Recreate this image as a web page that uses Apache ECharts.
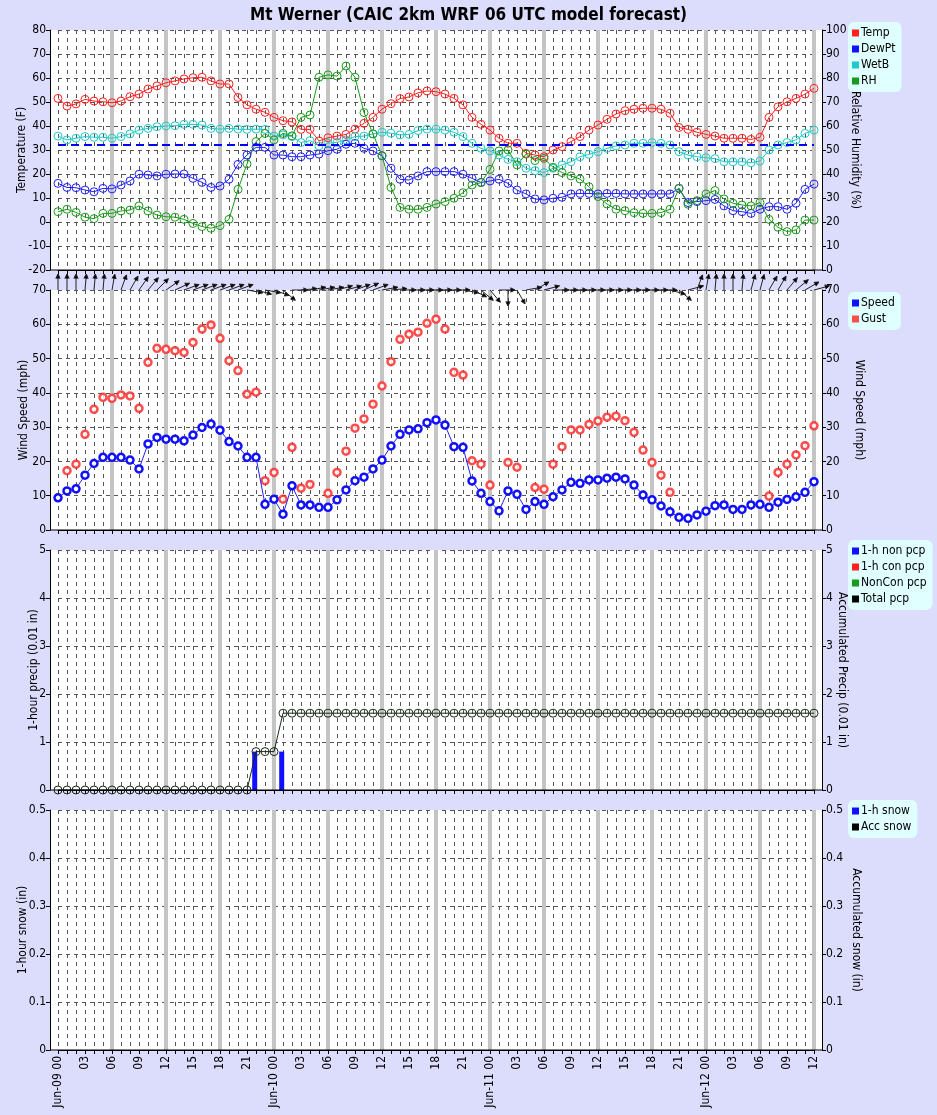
<!DOCTYPE html>
<html>
<head>
<meta charset="UTF-8">
<title>Mt Werner</title>
<script src="https://cdn.jsdelivr.net/npm/echarts@6/dist/echarts.min.js"></script>
<style>
  html, body { margin:0; padding:0; background:#dcdcfc; }
  #main { width:937px; height:1115px; }
</style>
</head>
<body>
<div id="main"></div>
<script>
// forecast hours Jun-09 00 .. Jun-12 12
var days = ['09', '10', '11', '12'];
var hours = [];
for (var i = 0; i <= 84; i++) {
    var hh = i % 24;
    hours.push(hh === 0 ? 'Jun-' + days[i / 24] + ' 00' : (hh < 10 ? '0' : '') + hh);
}

var temp = [51.5,48.3,49.2,51.1,50.4,50.1,49.7,50.4,52.2,53.3, 55.4,56.7,58,58.8,59.6,60.1,60.3,58.8,57.5,57.5,
    51.9,48.8,47,45.7,43.6,42.2,41.7,38.6,38.6,33.8, 35.1,35.8,36.5,38.7,41.1,43.6,47,49.3,51.4,52.1, 53.8,54.6,
    54.3,53.3,51.5,48.8,43.6,40.7,38.3,34.9,32.8,32.8, 28.6,27.9,27.2,30,31.4,33.5,35.6,38.3,40.4,42.8,
    45,46.4,47,47.4,47.4,47,45.3,39.4,38.6,37.4, 36.5,35.8,34.9,34.9,34.9,34.4,35.3,43.6,48,50.1, 51.5,53.3,55.7];
var dewpt = [16.1,14.4,14.3,13.3,12.6,14,13.8,15.4,17.1,19.9, 19.6,19.2,19.9,20,20,18.2,16.5,14.4,15,17.8,
    24,27.9,31.1,31.1,27.9,27.9,27.2,27.2,27.9,28.3, 29.7,30.3,32.4,32.8,30.7,29.6,27.6,22.4,17.8,17.5, 19.2,21,
    21,21,21,19.9,18.2,16.5,17.1,17.8,16.1,13.3, 11.7,9.6,9.2,9.9,10.3,11.7,11.9,11.9,11.7,11.9,
    11.9,11.7,11.7,11.7,11.7,11.7,11.7,14,8.1,8.5, 8.9,9.4,6.7,4.7,4.3,3.6,5.3,6.4,6.4,5.3, 7.8,13.6,15.8];
var wetb = [35.8,34.2,34.9,35.6,35.3,35.3,34.9,35.6,36.7,38.3, 39,39.7,40,40.1,40.7,40.7,40.4,39,38.7,39,
    38.7,38.6,38.7,38.6,35.8,36.3,35.6,33.1,33.9,31.7, 32.8,33.2,34.2,35.6,35.8,36.7,37.4,37,36.3,36.5, 38.1,38.7,
    38.7,38.3,37.4,35.6,32.8,30.7,29.6,27.9,26.1,25.1, 22.4,21.4,20.6,22.4,23.8,25.1,27.2,28.2,29.3,30.7,
    31.7,32.1,32.8,32.8,33.1,32.8,32.1,29.3,27.9,27.2, 26.8,26.4,25.1,25.1,25.1,24.7,25.4,30,32.1,33.1, 34.2,36.9,38.3];
var rh = [24.3,25.3,24,22,21.4,23.6,23.6,24.6,25,26.7, 24.6,22.9,22.2,22,21.1,19.4,18.1,17.4,18.5,21.1,
    33.6,44.2,53.5,56.9,54.2,56.9,55.9,63.6,64.6,80.3, 81.3,80.8,85,80.3,65.6,56.7,47.6,34.4,26.1,25.3, 25.3,26.1,
    27.5,28.5,29.9,32.2,35.4,36.4,41.9,49.6,50,43.8, 48.3,45.6,46.5,42.8,40.6,39.2,37.9,34.7,30.6,27.5,
    25.3,24.7,23.9,23.6,23.6,23.9,25.3,34,27.4,28.9, 31.7,33.1,29.6,27.8,27.1,26.7,28.1,21.1,17.8,16, 16.7,20.8,20.8];
var freezing = 32;

var speed = [9.4,11.4,12,16,19.4,21.2,21.2,21.2,20.4,17.8, 25.1,27,26.5,26.5,26,27.7,29.9,30.9,29.1,25.8,
    24.5,21.2,21.2,7.5,9,4.6,12.9,7.3,7.3,6.6, 6.6,8.8,11.7,14.4,15.4,17.8,20.4,24.5,27.9,29.2, 29.5,31.3,
    32.1,30.6,24.3,24.1,14.3,10.7,8.3,5.6,11.4,10.4, 6,8.3,7.5,9.7,11.7,13.9,13.6,14.6,14.6,15.1,
    15.4,14.9,13.1,10.2,8.8,7,5.3,3.7,3.4,4.4, 5.5,7.1,7.3,6,6,7.3,7.5,6.6,8.1,8.9, 9.7,11,14.1];
var gust = [null,17.3,19.2,27.9,35.2,38.7,38.4,39.4,39.1,35.5, 48.9,53,52.7,52.3,51.8,54.7,58.6,59.8,55.9,49.4,
    46.5,39.6,40.2,14.4,16.8,9,24.1,12.2,13.3,null, 10.7,16.8,23,29.7,32.4,36.7,42,49.1,55.6,57.1,
    57.7,60.3,61.5,58.6,46,45.2,20.2,19.2,13.1,null, 19.7,18.3,null,12.4,11.9,19.2,24.3,29.2,29.2,30.8,
    31.8,32.9,33.2,31.9,28.5,23.3,19.7,16,11, null, null,null,null,null,null,null,null,null,null,9.9,
    16.8,19.2,21.9,24.6,30.4];
// direction the arrow points, degrees clockwise from up
var windDir = [0,0,0,5,5,5,10,20,30,35, 40,45,55,65,70,70,70,70,70,70,
    70,100,105,100,110,130,90,85,80,80, 80,75,75,70,65,70,80,85,90,90,
    90,90,90,90,90,100,115,130,140,90, 180,150,80,60,75,90,90,90,90,90,
    90,90,90,90,90,90,90,90,105,130, 75,20,10,5,0,0,5,15,15,30, 30,40,50,60,75];

var nonPcp = [0,0,0,0,0,0,0,0,0,0, 0,0,0,0,0,0,0,0,0,0, 0,0,0.8,0,0,0.8,0,0,0,0,
    0,0,0,0,0,0,0,0,0,0, 0,0,0,0,0,0,0,0,0,0, 0,0,0,0,0,0,0,0,0,0,
    0,0,0,0,0,0,0,0,0,0, 0,0,0,0,0,0,0,0,0,0, 0,0,0,0,0];
var totalPcp = [0,0,0,0,0,0,0,0,0,0, 0,0,0,0,0,0,0,0,0,0, 0,0,0.8,0.8,0.8,1.6,1.6,1.6,1.6,1.6,
    1.6,1.6,1.6,1.6,1.6,1.6,1.6,1.6,1.6,1.6, 1.6,1.6,1.6,1.6,1.6,1.6,1.6,1.6,1.6,1.6,
    1.6,1.6,1.6,1.6,1.6,1.6,1.6,1.6,1.6,1.6, 1.6,1.6,1.6,1.6,1.6,1.6,1.6,1.6,1.6,1.6,
    1.6,1.6,1.6,1.6,1.6,1.6,1.6,1.6,1.6,1.6, 1.6,1.6,1.6,1.6,1.6];

var FONT = '"DejaVu Sans Condensed", "DejaVu Sans", sans-serif';
var tops = [30, 290, 550, 810];
var gridH = 240;

var grids = [], xAxes = [], yAxes = [], graphics = [];
tops.forEach(function (t, k) {
    grids.push({left: 58, right: 123, top: t, height: gridH});
    // white plot background reaching out to the y axes
    graphics.push({type: 'rect', z: -10, shape: {x: 50, y: t, width: 772, height: gridH}, style: {fill: '#fff'}});
    graphics.push({type: 'line', z: 10, shape: {x1: 50, y1: t + gridH, x2: 822, y2: t + gridH}, style: {stroke: '#000', lineWidth: 1}});
    xAxes.push({
        type: 'category', gridIndex: k, data: hours, boundaryGap: false,
        axisLine: {onZero: false, lineStyle: {color: '#000'}},
        axisTick: {interval: 0, length: 4, lineStyle: {color: '#000'}},
        axisLabel: {show: k === 3, interval: 2, rotate: 90, fontFamily: FONT, fontSize: 12, color: '#000', margin: 6},
        splitLine: {show: true, interval: 0, lineStyle: {color: '#555', type: [4, 4]}}
    });
    xAxes.push({
        type: 'category', gridIndex: k, data: hours, boundaryGap: false, position: 'bottom',
        axisLine: {show: false, onZero: false}, axisTick: {show: false}, axisLabel: {show: false},
        splitLine: {show: true, interval: function (i) { return i % 6 === 0 && i > 0; },
            lineStyle: {color: '#c4c4c4', width: 4}}
    });
});

function yAx(k, pos, min, max, step, name, gap) {
    return {
        type: 'value', gridIndex: k, position: pos, offset: 8, min: min, max: max, interval: step,
        name: name, nameLocation: 'middle', nameGap: gap, nameRotate: pos === 'left' ? 90 : -90,
        nameMoveOverlap: false,
        nameTextStyle: {fontFamily: FONT, fontSize: 12, color: '#000'},
        axisLine: {show: true, onZero: false, lineStyle: {color: '#000'}},
        axisTick: {show: true, length: 4, lineStyle: {color: '#000'}},
        axisLabel: {fontFamily: FONT, fontSize: 12, color: '#000', margin: 4},
        splitLine: {show: pos === 'left', lineStyle: {color: '#555', type: [4, 4]}}
    };
}
yAxes.push(yAx(0, 'left', -20, 80, 10, 'Temperature (F)', 22));
yAxes.push(yAx(0, 'right', 0, 100, 10, 'Relative Humidity (%)', 27));
yAxes.push(yAx(1, 'left', 0, 70, 10, 'Wind Speed (mph)', 20));
yAxes.push(yAx(1, 'right', 0, 70, 10, 'Wind Speed (mph)', 31));
yAxes.push(yAx(2, 'left', 0, 5, 1, '1-hour precip (0.01 in)', 10));
yAxes.push(yAx(2, 'right', 0, 5, 1, 'Accumulated Precip (0.01 in)', 14));
yAxes.push(yAx(3, 'left', 0, 0.5, 0.1, '1-hour snow (in)', 21));
yAxes.push(yAx(3, 'right', 0, 0.5, 0.1, 'Accumulated snow (in)', 28));

function ringLine(name, data, color, xi, yi) {
    return {
        name: name, type: 'line', xAxisIndex: xi, yAxisIndex: yi, data: data,
        symbol: 'circle', symbolSize: 8, showAllSymbol: true,
        lineStyle: {color: color, width: 1},
        itemStyle: {color: 'rgba(0,0,0,0)', borderColor: color, borderWidth: 1},
        emphasis: {disabled: true}
    };
}

var tempSeries = ringLine('Temp', temp, '#ff2020', 0, 0);
tempSeries.markLine = {
    silent: true, symbol: 'none', label: {show: false},
    lineStyle: {color: '#0000ff', width: 2, type: [8, 5]},
    data: [{yAxis: freezing}]
};

var series = [
    tempSeries,
    ringLine('DewPt', dewpt, '#2020ff', 0, 0),
    ringLine('WetB', wetb, '#20c8c8', 0, 0),
    ringLine('RH', rh, '#1a9a1a', 0, 1),
    {
        name: 'Speed', type: 'line', xAxisIndex: 2, yAxisIndex: 2, data: speed,
        symbol: 'circle', symbolSize: 7, showAllSymbol: true,
        lineStyle: {color: '#2020ff', width: 1},
        itemStyle: {color: '#fff', borderColor: '#1010ff', borderWidth: 2.5}
    },
    {
        name: 'Gust', type: 'scatter', xAxisIndex: 2, yAxisIndex: 2, data: gust,
        symbol: 'circle', symbolSize: 7,
        itemStyle: {color: '#fff', borderColor: '#ff2020', borderWidth: 2.5}
    },
    {
        type: 'custom', xAxisIndex: 2, yAxisIndex: 2, clip: false, silent: true,
        data: windDir.map(function (d, i) { return [i, d]; }),
        renderItem: function (params, api) {
            var p = api.coord([api.value(0), 70]);
            var a = api.value(1) * Math.PI / 180, L = 16, hl = 5, hw = 0.45;
            var tx = p[0] + L * Math.sin(a), ty = p[1] - L * Math.cos(a);
            var s = {stroke: '#222', lineWidth: 1};
            return {type: 'group', children: [
                {type: 'line', shape: {x1: p[0], y1: p[1], x2: tx, y2: ty}, style: s},
                {type: 'polyline', shape: {points: [
                    [tx - hl * Math.sin(a - hw), ty + hl * Math.cos(a - hw)],
                    [tx, ty],
                    [tx - hl * Math.sin(a + hw), ty + hl * Math.cos(a + hw)]
                ]}, style: s}
            ]};
        }
    },
    {
        name: '1-h non pcp', type: 'bar', xAxisIndex: 4, yAxisIndex: 4, data: nonPcp,
        barWidth: 5, itemStyle: {color: '#1010ff'}
    },
    {name: '1-h con pcp', type: 'bar', xAxisIndex: 4, yAxisIndex: 4, data: [], itemStyle: {color: '#ff2020'}},
    {name: 'NonCon pcp', type: 'bar', xAxisIndex: 4, yAxisIndex: 4, data: [], itemStyle: {color: '#1a9a1a'}},
    ringLine('Total pcp', totalPcp, '#1a2a1a', 4, 5),
    {name: '1-h snow', type: 'bar', xAxisIndex: 6, yAxisIndex: 6, data: [], itemStyle: {color: '#1010ff'}},
    {name: 'Acc snow', type: 'line', xAxisIndex: 6, yAxisIndex: 7, data: [], itemStyle: {color: '#000'}}
];

function legend(top, items) {
    return {
        top: top, left: 848, orient: 'vertical', icon: 'rect', itemWidth: 7, itemHeight: 7, itemGap: 4,
        backgroundColor: '#e0ffff', borderRadius: 6, padding: [5, 6, 5, 4], selectedMode: false,
        textStyle: {fontFamily: FONT, fontSize: 12, color: '#000', padding: [0, 0, 0, -3]},
        data: items.map(function (it) { return {name: it[0], itemStyle: {color: it[1], borderWidth: 0}}; })
    };
}

var chart = echarts.init(document.getElementById('main'));
chart.setOption({
    backgroundColor: '#dcdcfc',
    animation: false,
    title: {
        text: 'Mt Werner (CAIC 2km WRF 06 UTC model forecast)', left: 'center', top: 2,
        textStyle: {fontFamily: FONT, fontSize: 17, fontWeight: 'bold', color: '#000'}
    },
    legend: [
        legend(22, [['Temp', '#ff2020'], ['DewPt', '#1010ff'], ['WetB', '#20c8c8'], ['RH', '#1a9a1a']]),
        legend(292, [['Speed', '#1010ff'], ['Gust', '#ff2020']]),
        legend(540, [['1-h non pcp', '#1010ff'], ['1-h con pcp', '#ff2020'], ['NonCon pcp', '#1a9a1a'], ['Total pcp', '#000']]),
        legend(800, [['1-h snow', '#1010ff'], ['Acc snow', '#000']])
    ],
    graphic: graphics,
    grid: grids,
    xAxis: xAxes,
    yAxis: yAxes,
    series: series
});
</script>
</body>
</html>
